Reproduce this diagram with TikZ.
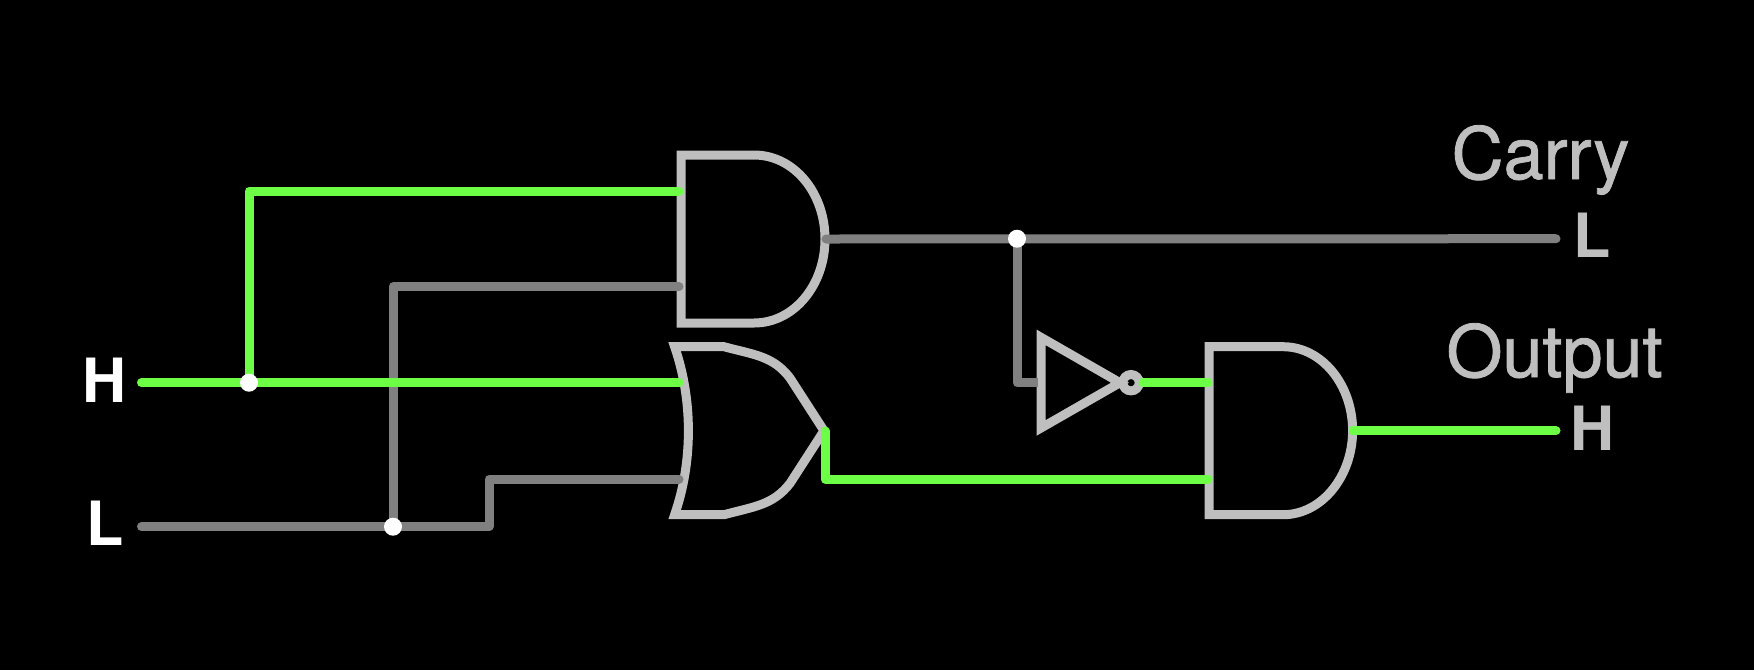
\documentclass[tikz,border=0pt]{standalone}
\usepackage{fontspec}
\setmainfont{TeX Gyre Heros}
\newfontfamily\titlefont[FakeBold=1.2]{TeX Gyre Heros}
\definecolor{wirehigh}{HTML}{6CFF46}
\definecolor{wirelow}{HTML}{808080}
\definecolor{gatecol}{HTML}{BFBFBF}
\tikzset{
  gate/.style={draw=gatecol,line width=9pt,miter limit=10,line join=miter},
  hi/.style={draw=wirehigh,line width=9pt,line cap=round,line join=round},
  lo/.style={draw=wirelow,line width=9pt,line cap=round,line join=round},
  dotnode/.style={circle,fill=white,inner sep=0pt,minimum size=18pt},
  title/.style={anchor=base,inner sep=0pt,text=gatecol,font=\titlefont\fontsize{72}{72}\selectfont},
  state/.style={anchor=base,inner sep=0pt,font=\fontsize{61}{61}\selectfont\bfseries},
}
\begin{document}
\begin{tikzpicture}[x=1pt,y=-1pt]
\fill[black] (0,0) rectangle (1754,670);
\useasboundingbox (0,0) rectangle (1754,670);
% ports
\coordinate (hin) at (141.5,382.7);
\coordinate (lin) at (141.5,526.7);
\coordinate (a1a) at (679,191);
\coordinate (a1b) at (679,286.7);
\coordinate (a1o) at (826,239);
\coordinate (ora) at (679,382.7);
\coordinate (orb) at (679,479);
\coordinate (oro) at (825,431);
\coordinate (a2a) at (1208,382.7);
\coordinate (a2b) at (1208,479);
\coordinate (a2o) at (1353,430.7);
\coordinate (invi) at (1038,382.7);
\coordinate (invo) at (1143,382.7);
\coordinate (cend) at (1556,238.7);
\coordinate (oend) at (1556,430.7);
% gates
\draw[gate] (681,155) -- (754,155) .. controls (794,155) and (825,193) .. (825,239)
  .. controls (825,285) and (794,323) .. (754,323) -- (681,323) -- cycle;
\draw[gate] (1209,346.7) -- (1283,346.7) .. controls (1322,346.7) and (1352.6,385) .. (1352.6,430.7)
  .. controls (1352.6,476) and (1322,514.7) .. (1283,514.7) -- (1209,514.7) -- cycle;
\draw[gate] (674.6,346.7) -- (724,346.7) .. controls (755,355) and (773,356) .. (790,378) -- (824,430.7)
  -- (790,483.4) .. controls (773,505) and (755,506.4) .. (724,514.7) -- (674.6,514.7)
  .. controls (693,462) and (693,400) .. (674.6,346.7) -- cycle;
\draw[gate] (1041,337.3) -- (1120,382.7) -- (1041,428) -- cycle;
\draw[gate] (1131,382.7) circle (8.2pt);
% junctions
\path (249,382.7) coordinate (jh);
\path (393,526.7) coordinate (jl);
\path (1017,238.7) coordinate (jc);
% wires
\draw[lo] (lin) -- (jl) -- (489,526.7) -- (489,479) -- (orb);
\draw[lo] (jl) -- (393,286.7) -- (a1b);
\draw[lo] (a1o) -- (cend);
\draw[lo,line cap=butt] (jc) -- (jc |- invi) -- (invi);
\draw[hi] (hin) -- (ora);
\draw[hi] (jh) -- (249,191) -- (a1a);
\draw[hi] (oro) -- (825,479) -- (a2b);
\draw[hi] (invo) -- (a2a);
\draw[hi] (a2o) -- (oend);
% junction dots
\node[dotnode] (dh) at (jh) {};
\node[dotnode] (dl) at (jl) {};
\node[dotnode] (dc) at (jc) {};
% labels
\node[state,text=white] (lh) at (105,402) {H};
\node[state,text=white] (ll) at (105,545.7) {L};
\node[title] (carry) at (1540.5,179) {Carry};
\node[title] (output) at (1554.5,377) {Output};
\node[state,text=gatecol] (rl) at (1592,257.7) {L};
\node[state,text=gatecol] (rh) at (1593,450) {H};
\end{tikzpicture}
\end{document}
